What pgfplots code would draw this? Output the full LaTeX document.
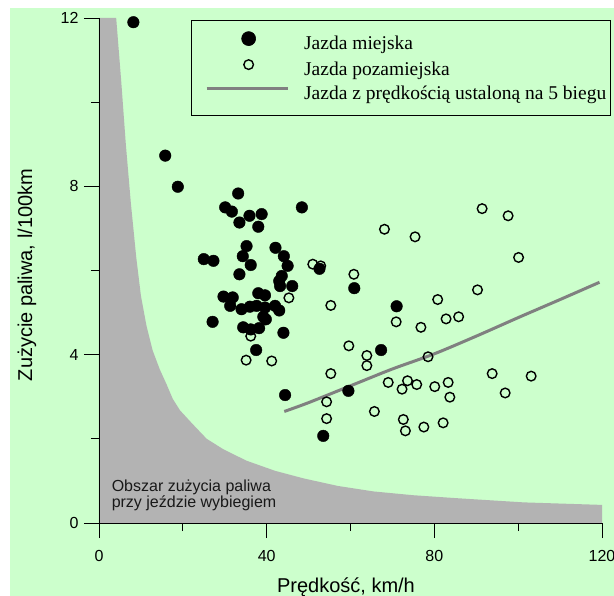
\documentclass[border=0pt]{standalone}
\usepackage{fontspec}
\setmainfont{Liberation Sans}
\newfontfamily\legendfont{Liberation Serif}
\usepackage{pgfplots}
\pgfplotsset{compat=1.18}
\definecolor{bggreen}{HTML}{CCFFCC}
\definecolor{areagray}{HTML}{B3B3B3}
\definecolor{linegray}{HTML}{808080}

\begin{document}
\begin{tikzpicture}[x=1pt,y=1pt]
\useasboundingbox (0,0) rectangle (614,-596);
\fill[bggreen] (10,-8) rectangle (614,-596);
\begin{axis}[
    at={(99pt,-523pt)}, anchor=south west,
    scale only axis, width=503pt, height=505pt,
    xmin=0, xmax=120, ymin=0, ymax=12,
    axis x line*=bottom, axis y line*=left,
    axis on top,
    xtick={0,40,80,120}, minor xtick={20,60,100},
    ytick={0,4,8,12}, minor ytick={2,6,10},
    tick align=outside,
    major tick length=15pt, minor tick length=8pt,
    tick style={black, line width=0.8pt},
    axis line style={black, line width=0.8pt, -},
    ticklabel style={font=\fontsize{16}{19}\selectfont},
    xticklabel style={yshift=-9pt},
    yticklabel style={xshift=-2pt},
    /pgf/number format/assume math mode=true,
    xlabel={Prędkość, km/h},
    ylabel={Zużycie paliwa, l/100km},
    label style={font=\fontsize{20}{24}\selectfont},
    xlabel style={at={(axis description cs:0.491,0)}, anchor=base, yshift=-69pt},
    ylabel style={at={(axis description cs:-0.133,0.491)}, anchor=base},
    legend style={at={(axis description cs:0.183,0.996)}, anchor=north west,
        draw=black, line width=0.6pt, fill=none,
        font=\legendfont\fontsize{19.5}{22}\selectfont,
        inner xsep=4pt, inner ysep=11pt, column sep=15pt, row sep=5pt,
        nodes={inner sep=0pt, text height=14pt, text depth=5pt}},
    legend cell align=left,
]
% coasting region
\addplot[forget plot, fill=areagray, draw=none] coordinates {
    (0,0) (0,12) (4.1,12) (5.3,10.5) (6.4,9.0) (7.6,7.6) (8.9,6.3)
    (10.0,5.4) (11.3,4.7) (12.8,4.1) (14.5,3.65) (16.1,3.3) (17.6,2.95)
    (19.3,2.68) (21.7,2.42) (23.3,2.25) (25.7,2.0) (29.7,1.75) (35.2,1.48)
    (42.0,1.24) (48.8,1.06) (57.0,0.88) (65.5,0.75) (75.0,0.66) (85.3,0.59)
    (101.3,0.49) (120,0.43) (120,0)
} -- cycle;

\addlegendimage{legend image code/.code={\path (0pt,0) (92pt,0); \fill[black] (53pt,6pt) circle (7pt);}}
\addlegendentry{Jazda miejska}
\addlegendimage{legend image code/.code={\path (0pt,0) (92pt,0); \draw[black, line width=1.4pt] (53pt,6pt) circle (4.8pt);}}
\addlegendentry{Jazda pozamiejska}
\addlegendimage{legend image code/.code={\path (0pt,0) (92pt,0); \draw[linegray, line width=3pt] (11pt,6pt) -- (92pt,6pt);}}
\addlegendentry{Jazda z prędkością ustaloną na 5 biegu}

% extra-urban
\addplot[forget plot, only marks, mark=o, mark size=4.8pt, black, line width=1.4pt] coordinates {
    (36.2,4.44) (35.1,3.87) (41.2,3.85) (45.3,5.35) (51.0,6.15) (52.9,6.11)
    (60.8,5.91) (55.3,5.17) (68.1,6.98) (75.4,6.80) (91.4,7.47) (97.6,7.30)
    (100.1,6.31) (90.3,5.54) (80.8,5.31) (82.8,4.85) (85.8,4.90) (70.9,4.78)
    (76.8,4.65) (59.6,4.21) (63.9,3.98) (63.9,3.74) (78.5,3.95) (55.3,3.55)
    (69.0,3.34) (73.6,3.38) (75.8,3.29) (72.3,3.18) (80.1,3.24) (83.3,3.34)
    (83.7,2.99) (93.8,3.55) (96.9,3.09) (103.1,3.49) (54.3,2.88) (54.3,2.48)
    (65.7,2.65) (72.6,2.46) (73.1,2.19) (77.5,2.28) (82.1,2.38)
};
% urban
\addplot[forget plot, only marks, mark=*, mark size=5.8pt, black] coordinates {
    (8.2,11.90) (15.8,8.73) (18.8,7.99)
    (33.2,7.83) (30.1,7.50) (31.7,7.40) (33.5,7.14) (35.9,7.30) (38.8,7.34)
    (38.0,7.04) (48.4,7.50) (35.2,6.58) (34.3,6.34) (36.2,6.13) (33.5,5.91)
    (42.1,6.54) (44.1,6.34) (45.0,6.11) (43.6,5.87) (43.0,5.75) (43.2,5.63)
    (46.1,5.63) (25.0,6.27) (27.3,6.23) (29.7,5.38) (31.9,5.36) (31.3,5.16)
    (38.0,5.46) (39.6,5.41) (34.0,5.08) (36.0,5.14) (37.6,5.16) (39.6,5.12)
    (42.0,5.16) (43.0,5.05) (39.2,4.90) (39.8,4.84) (27.1,4.78) (34.4,4.65)
    (36.2,4.60) (38.2,4.63) (44.0,4.52) (37.5,4.11) (44.4,3.04) (52.6,6.04)
    (60.9,5.58) (71.0,5.15) (67.3,4.11) (59.5,3.14) (53.5,2.07)
};
% steady speed, 5th gear
\addplot[forget plot, linegray, line width=3pt, smooth] coordinates {
    (44.2,2.65) (50,2.86) (60,3.26) (70,3.66) (80,4.02) (90,4.44)
    (100,4.88) (110,5.31) (119.4,5.72)
};

\node[anchor=base west, inner sep=0pt, font=\fontsize{16}{18}\selectfont, text=black!90]
    at (axis cs:3.0,0.76) {Obszar zużycia paliwa};
\node[anchor=base west, inner sep=0pt, font=\fontsize{16}{18}\selectfont, text=black!90]
    at (axis cs:3.0,0.36) {przy jeździe wybiegiem};
\end{axis}
\end{tikzpicture}
\end{document}
